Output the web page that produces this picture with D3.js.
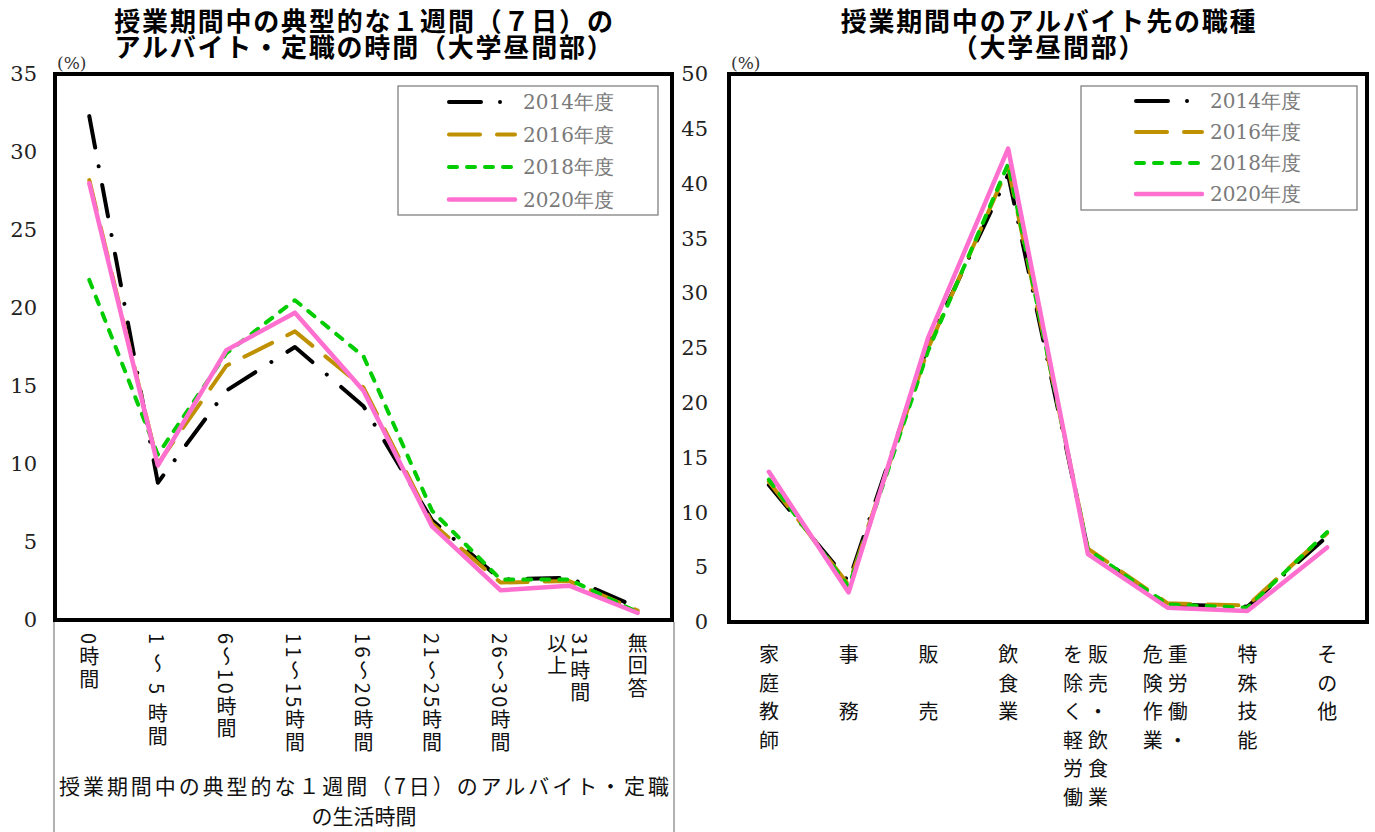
<!DOCTYPE html>
<html><head><meta charset="utf-8">
<script src="https://cdn.jsdelivr.net/npm/d3@7"></script>
<style>body{margin:0;background:#fff} svg{display:block}</style>
</head><body>
<svg id="c" width="1375" height="832"></svg>
<script>
// ---------- DATA ----------
const years = ["2014年度", "2016年度", "2018年度", "2020年度"];

const hoursCats = ["0時間", "1 ～ 5 時間", "6～10時間", "11～15時間", "16～20時間", "21～25時間", "26～30時間", "31時間以上", "無回答"];
const hoursLabelCols = [["0時間"], ["1 ～ 5 時間"], ["6～10時間"], ["11～15時間"], ["16～20時間"], ["21～25時間"], ["26～30時間"], ["31時間", "以上"], ["無回答"]];
const hours2014 = [32.3, 8.8, 14.7, 17.5, 13.7, 6.4, 2.6, 2.7, 0.8];
const hours2016 = [28.2, 10.0, 16.3, 18.5, 14.9, 6.2, 2.4, 2.5, 0.6];
const hours2018 = [21.8, 10.6, 17.1, 20.5, 16.9, 7.0, 2.6, 2.6, 0.5];
const hours2020 = [28.0, 9.9, 17.3, 19.7, 14.7, 6.0, 1.9, 2.2, 0.45];
const hoursTicks = [0, 5, 10, 15, 20, 25, 30, 35];

const jobCats = ["家庭教師", "事務", "販売", "飲食業", "販売・飲食業を除く軽労働", "重労働・危険作業", "特殊技能", "その他"];
const jobLabelCols = [["家庭教師"], ["事　務"], ["販　売"], ["飲食業"], ["販売・飲食業", "を除く軽労働"], ["重労働・", "危険作業"], ["特殊技能"], ["その他"]];
const job2014 = [12.5, 3.7, 25.4, 40.8, 6.6, 1.6, 1.4, 7.8];
const job2016 = [12.8, 3.4, 25.0, 41.5, 6.7, 1.7, 1.5, 8.1];
const job2018 = [13.0, 3.2, 24.8, 41.8, 6.6, 1.6, 1.3, 8.2];
const job2020 = [13.7, 2.7, 26.0, 43.2, 6.2, 1.3, 1.0, 6.8];
const jobTicks = [0, 5, 10, 15, 20, 25, 30, 35, 40, 45, 50];

// ---------- STYLE ----------
const styles = [
  {color: "#000000", dash: "32,19,0.01,19", width: 4},
  {color: "#BF9000", dash: "31,17", width: 4},
  {color: "#00CC00", dash: "8,10", width: 4},
  {color: "#FF6FCF", dash: null, width: 4.5}
];
const serif = "'DejaVu Serif','Liberation Serif',serif";
const jp = "'Noto Sans CJK JP','Noto Sans CJK SC',sans-serif";
const svg = d3.select("#c");

function drawChart(o) {
  const x = d3.scalePoint().domain(o.cats).range([o.x0, o.x1]).padding(0.5);
  const y = d3.scaleLinear().domain([0, o.max]).range([o.y1, o.y0]);
  const g = svg.append("g");

  // title (one text element, two lines)
  const tt = g.append("text").attr("text-anchor", "middle").attr("font-family", jp)
    .attr("font-weight", 700).attr("font-size", 26).attr("letter-spacing", 1.8).attr("fill", "#000");
  o.title.forEach((t, i) => {
    tt.append("tspan").attr("x", (o.x0 + o.x1) / 2 + 1).attr("y", o.titleY + i * 26).text(t);
  });

  // unit
  g.append("text").attr("x", o.x0 + 2).attr("y", o.y0 - 5).attr("font-family", serif)
    .attr("font-size", 17).attr("fill", "#333").text("(%)");

  // y axis
  const ax = g.append("g").attr("transform", `translate(${o.labelX},0)`)
    .call(d3.axisLeft(y).tickValues(o.ticks).tickSize(0).tickPadding(0));
  ax.select(".domain").remove();
  ax.selectAll("text").attr("font-family", serif).attr("font-size", 21).attr("fill", "#222");

  // frame
  g.append("rect").attr("x", o.x0).attr("y", o.y0).attr("width", o.x1 - o.x0).attr("height", o.y1 - o.y0)
    .attr("fill", "none").attr("stroke", "#000").attr("stroke-width", 4);

  // lines
  const line = d3.line().x((d, i) => x(o.cats[i])).y(d => y(d));
  o.series.forEach((s, k) => {
    const st = styles[k];
    g.append("path").datum(s).attr("d", line).attr("fill", "none")
      .attr("stroke", st.color).attr("stroke-width", st.width)
      .attr("stroke-linecap", "round").attr("stroke-linejoin", "round")
      .attr("stroke-dasharray", st.dash);
  });

  // legend
  const L = o.legend;
  g.append("rect").attr("x", L.x).attr("y", L.y).attr("width", L.w).attr("height", L.h)
    .attr("fill", "#fff").attr("stroke", "#777").attr("stroke-width", 1.2);
  years.forEach((yr, k) => {
    const st = styles[k];
    const yy = L.y + L.first + k * L.step;
    g.append("line").attr("x1", L.lx).attr("x2", L.lx + 66).attr("y1", yy).attr("y2", yy)
      .attr("stroke", st.color).attr("stroke-width", st.width)
      .attr("stroke-linecap", "round").attr("stroke-dasharray", st.dash);
    g.append("text").attr("x", L.lx + 74).attr("y", yy).attr("dy", "0.36em")
      .attr("font-family", serif).attr("font-size", 20).attr("fill", "#7a7a7a").text(yr);
  });

  return {x, y, g};
}

// ---------- LEFT CHART ----------
const left = drawChart({
  cats: hoursCats, series: [hours2014, hours2016, hours2018, hours2020],
  x0: 55, x1: 672, y0: 74, y1: 620, max: 35, ticks: hoursTicks, labelX: 37,
  title: ["授業期間中の典型的な１週間（７日）の", "アルバイト・定職の時間（大学昼間部）"], titleY: 31,
  legend: {x: 398, y: 86, w: 260, h: 129, first: 16, step: 32.5, lx: 449}
});
hoursLabelCols.forEach((cols, i) => {
  const cx = left.x(hoursCats[i]);
  cols.forEach((c, j) => {
    const off = cols.length > 1 ? (j === 0 ? 11 : -12) : 0;
    left.g.append("text").attr("x", cx + off).attr("y", 633)
      .style("writing-mode", "vertical-rl").style("text-orientation", "mixed")
      .attr("letter-spacing", 2.5)
      .attr("font-family", jp).attr("font-size", 20).attr("fill", "#111").text(c);
  });
});
// axis title area
left.g.append("line").attr("x1", 54).attr("x2", 54).attr("y1", 622).attr("y2", 832).attr("stroke", "#999").attr("stroke-width", 1.5);
left.g.append("line").attr("x1", 674).attr("x2", 674).attr("y1", 622).attr("y2", 832).attr("stroke", "#999").attr("stroke-width", 1.5);
left.g.append("text").attr("x", 364).attr("y", 794).attr("text-anchor", "middle")
  .attr("font-family", jp).attr("font-size", 21).attr("textLength", 610).attr("lengthAdjust", "spacing")
  .attr("fill", "#111").text("授業期間中の典型的な１週間（7日）のアルバイト・定職");
left.g.append("text").attr("x", 364).attr("y", 824).attr("text-anchor", "middle")
  .attr("font-family", jp).attr("font-size", 21).attr("fill", "#111").text("の生活時間");

// ---------- RIGHT CHART ----------
const right = drawChart({
  cats: jobCats, series: [job2014, job2016, job2018, job2020],
  x0: 729, x1: 1367, y0: 74, y1: 622, max: 50, ticks: jobTicks, labelX: 708,
  title: ["授業期間中のアルバイト先の職種", "（大学昼間部）"], titleY: 31,
  legend: {x: 1081, y: 86, w: 276, h: 124, first: 15, step: 31, lx: 1136}
});
jobLabelCols.forEach((cols, i) => {
  const cx = right.x(jobCats[i]);
  cols.forEach((c, j) => {
    const off = cols.length > 1 ? (j === 0 ? 10 : -15) : 0;
    Array.from(c).forEach((ch, r) => {
      right.g.append("text").attr("x", cx + off).attr("y", 655 + r * 28.5).attr("dy", "0.36em")
        .attr("text-anchor", "middle").attr("font-family", jp).attr("font-size", 20)
        .attr("fill", "#111").text(ch);
    });
  });
});
</script>
</body></html>
